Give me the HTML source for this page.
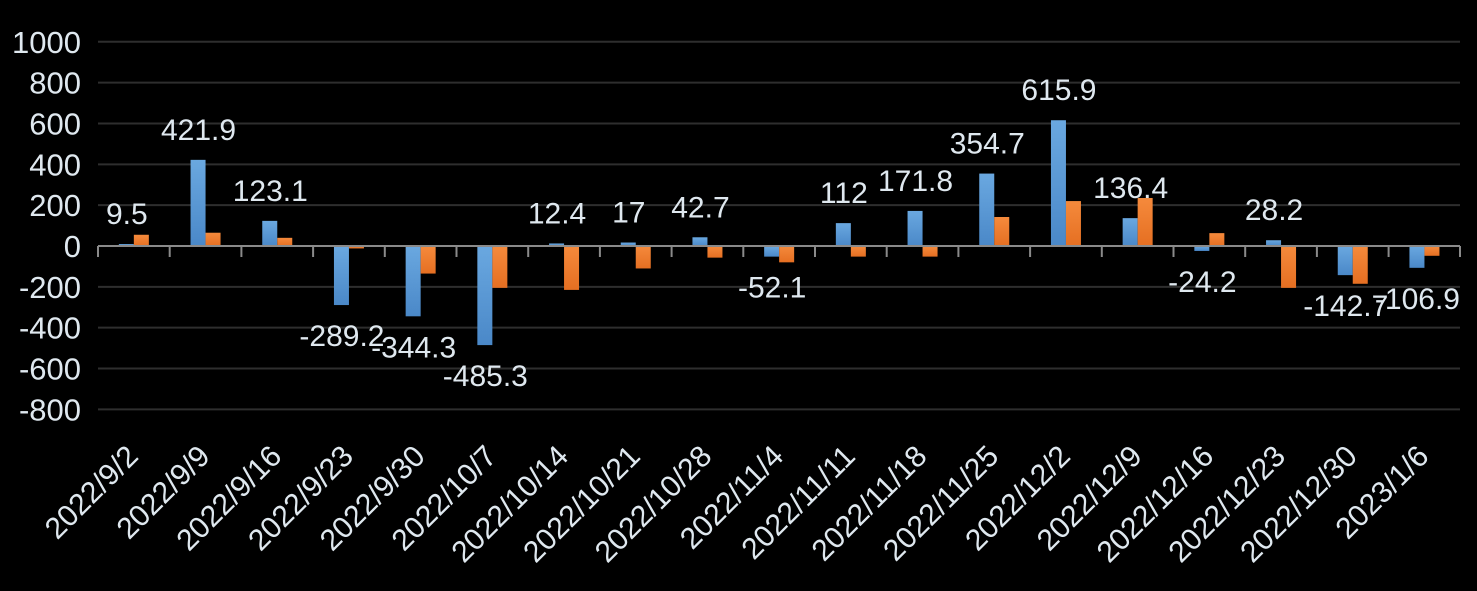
<!DOCTYPE html>
<html><head><meta charset="utf-8"><style>
html,body{margin:0;padding:0;background:#000;}
svg{display:block;}
text{font-family:"Liberation Sans",sans-serif;fill:#dfe8ef;}
</style></head><body>
<svg width="1477" height="591" xmlns="http://www.w3.org/2000/svg">
<defs>
<linearGradient id="b" x1="0" y1="0" x2="0" y2="1"><stop offset="0" stop-color="#6aa8e0"/><stop offset="1" stop-color="#4a88c8"/></linearGradient>
<linearGradient id="o" x1="0" y1="0" x2="0" y2="1"><stop offset="0" stop-color="#f58a3c"/><stop offset="1" stop-color="#e56f22"/></linearGradient>
</defs>
<script>
var s=document.querySelector('svg'),NS='http://www.w3.org/2000/svg';
function el(t,a,txt){var e=document.createElementNS(NS,t);for(var k in a)e.setAttribute(k,a[k]);if(txt!=null)e.textContent=txt;s.appendChild(e);return e;}
function Y(v){return 246-v*0.2042;}
for(var v=-800;v<=1000;v+=200){if(v!=0)el('line',{x1:98,x2:1460,y1:Y(v),y2:Y(v),stroke:'#2e2e2e','stroke-width':2});
el('text',{x:81,y:Y(v)+11,'text-anchor':'end','font-size':31},String(v));}
var cats=['2022/9/2','2022/9/9','2022/9/16','2022/9/23','2022/9/30','2022/10/7','2022/10/14','2022/10/21','2022/10/28','2022/11/4','2022/11/11','2022/11/18','2022/11/25','2022/12/2','2022/12/9','2022/12/16','2022/12/23','2022/12/30','2023/1/6'];
var bl=[9.5,421.9,123.1,-289.2,-344.3,-485.3,12.4,17,42.7,-52.1,112,171.8,354.7,615.9,136.4,-24.2,28.2,-142.7,-106.9];
var or=[55,65,40,-12,-135,-205,-215,-110,-57,-80,-52,-52,142,220,235,63,-205,-185,-48];
var W=71.7;
for(var i=0;i<19;i++){var c=98+W*(i+0.5);
function bar(x,v,f){var y0=Y(0),y1=Y(v);el('rect',{x:x,y:Math.min(y0,y1),width:15,height:Math.max(1.5,Math.abs(y1-y0)),fill:f});}
bar(c-15,bl[i],'url(#b)');bar(c,or[i],'url(#o)');
var ly=bl[i]>=0?Y(Math.max(bl[i],0))-20:Y(bl[i])+41;
el('text',{x:c-7,y:ly,'text-anchor':'middle','font-size':30},String(bl[i]));
el('text',{x:0,y:0,'text-anchor':'end','font-size':30,transform:'translate('+(c+6)+',458) rotate(-45)'},cats[i]);
el('line',{x1:98+W*i,x2:98+W*i,y1:246,y2:257,stroke:'#8a8a8a','stroke-width':2});
}
el('line',{x1:1460,x2:1460,y1:246,y2:257,stroke:'#8a8a8a','stroke-width':2});
el('line',{x1:98,x2:1460,y1:246,y2:246,stroke:'#8a8a8a','stroke-width':2});
</script>
</svg>
</body></html>
